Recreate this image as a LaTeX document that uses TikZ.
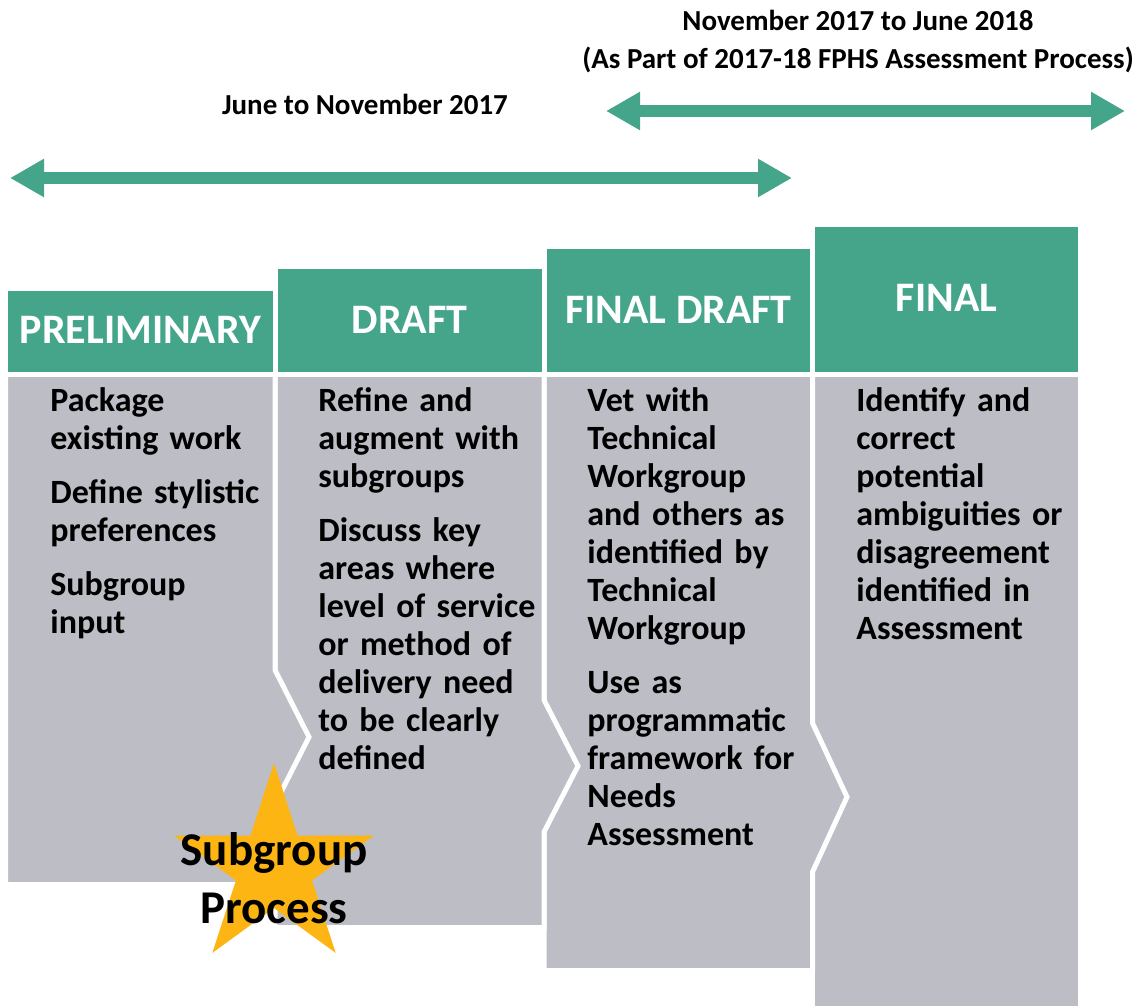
\documentclass[tikz,border=0pt]{standalone}
\usepackage{fontspec}
\setmainfont{Carlito}
\usepackage{tikz}
\usetikzlibrary{arrows.meta, positioning}
\definecolor{phasegreen}{RGB}{68,165,138}
\definecolor{bodygray}{RGB}{188,189,197}
\definecolor{stargold}{RGB}{253,181,20}

\begin{document}
\begin{tikzpicture}[x=0.5pt, y=-0.5pt,
    hdr/.style={fill=phasegreen, draw=white, line width=2.5pt},
    body/.style={fill=bodygray, draw=white, line width=2.5pt, line join=miter},
    hdrtext/.style={anchor=base, text=white, inner sep=0pt, font=\fontsize{21}{25}\selectfont\bfseries},
    bodytext/.style={anchor=base west, inner sep=0pt, text width=125pt, align=left, font=\fontsize{17}{19}\selectfont\bfseries},
    toptext/.style={anchor=base, inner sep=0pt, align=center, font=\fontsize{14.5}{19}\selectfont\bfseries},
    startext/.style={anchor=base, inner sep=0pt, align=center, font=\fontsize{23.5}{29}\selectfont\bfseries},
    timearr/.style={{Triangle[width=18pt,length=17pt]}-{Triangle[width=18pt,length=17pt]}, line width=6pt, phasegreen}]
    \useasboundingbox (0,0) rectangle (1140,1006);
    \node[toptext] (laterange) at (858,69) {November 2017 to June 2018\\(As Part of 2017-18 FPHS Assessment Process)};
    \node[toptext] (earlyrange) at (365,115) {June to November 2017};
    \coordinate (lateL) at (606,111);  \coordinate (lateR) at (1125,111);
    \coordinate (earlyL) at (10,178);  \coordinate (earlyR) at (792,178);
    \draw[timearr] (lateL) -- (lateR);
    \draw[timearr] (earlyL) -- (earlyR);
    \fill[hdr] (5.5,288.5) rectangle (275,374);
    \fill[hdr] (275,266.5) rectangle (544,374);
    \fill[hdr] (544,246.5) rectangle (812.5,374);
    \fill[hdr] (812.5,224.5) rectangle (1080.5,374);
    \filldraw[body] (812.5,374) -- (1080.5,374) -- (1080.5,1015) -- (812.5,1015) -- cycle;
    \filldraw[body] (544,374) -- (812.5,374) -- (812.5,723) -- (847,797) -- (812.5,872) -- (812.5,970.5) -- (544,970.5) -- cycle;
    \filldraw[body] (275,374) -- (544,374) -- (544,700) -- (578,766) -- (544,832) -- (544,927.5) -- (275,927.5) -- cycle;
    \filldraw[body] (5.5,374) -- (275,374) -- (275,670) -- (309,737) -- (275,804) -- (275,884.5) -- (5.5,884.5) -- cycle;
    \draw[hdr] (5.5,288.5) rectangle (275,374) (275,266.5) rectangle (544,374) (544,246.5) rectangle (812.5,374) (812.5,224.5) rectangle (1080.5,374);
    \node[hdrtext] (hprelim) at (140.5,343) {PRELIMINARY};
    \node[hdrtext] (hdraft) at (409.5,333) {DRAFT};
    \node[hdrtext] (hfdraft) at (678.5,323) {FINAL DRAFT};
    \node[hdrtext] (hfinal) at (946.5,311) {FINAL};
    \node[bodytext] (bprelim) at (50,411) {Package\\existing work\\[8pt]Define stylistic\\preferences\\[8pt]Subgroup\\input};
    \node[bodytext] (bdraft) at (318,411) {Refine and\\augment with\\subgroups\\[8pt]Discuss key\\areas where\\level of service\\or method of\\delivery need\\to be clearly\\defined};
    \node[bodytext] (bfdraft) at (587,411) {Vet with\\Technical\\Workgroup\\and others as\\identified by\\Technical\\Workgroup\\[8pt]Use as\\programmatic\\framework for\\Needs\\Assessment};
    \node[bodytext] (bfinal) at (856,411) {Identify and\\correct\\potential\\ambiguities or\\disagreement\\identified in\\Assessment};
    \fill[stargold] (274,763) \foreach \k in {1,...,9} { -- ({274+(mod(\k,2)==0 ? 105 : 40)*cos(90+36*\k)}, {868-(mod(\k,2)==0 ? 105 : 40)*sin(90+36*\k)}) } -- cycle;
    \node[startext] (subproc) at (274,923) {Subgroup\\Process};
\end{tikzpicture}
\end{document}
